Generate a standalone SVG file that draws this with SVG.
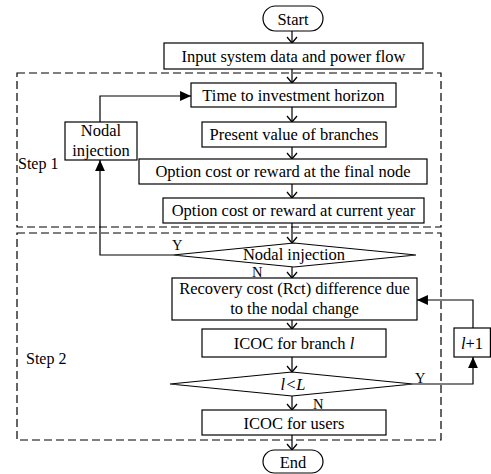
<svg xmlns="http://www.w3.org/2000/svg" width="491" height="474" viewBox="0 0 491 474">
<defs>
<style>
text{font-family:"Liberation Serif","Times New Roman",serif;font-size:16.5px;fill:#000}
.s{font-size:16px}
.y{font-size:14.5px}
.m{text-anchor:middle}
.b{fill:#fff;stroke:#000;stroke-width:1.2}
.d{fill:none;stroke:#000;stroke-width:1.2;stroke-dasharray:8,4}
.c{fill:none;stroke:#000;stroke-width:1.2}
.o{marker-end:url(#open)}
.f{marker-end:url(#fill)}
</style>
<marker id="open" markerUnits="userSpaceOnUse" markerWidth="12" markerHeight="12" viewBox="-7 -6 8 12" refX="0" refY="0" orient="auto">
<path d="M-6,-5 L0,0 L-6,5" fill="none" stroke="#000" stroke-width="1.3"/>
</marker>
<marker id="fill" markerUnits="userSpaceOnUse" markerWidth="12" markerHeight="12" viewBox="-10 -5 11 10" refX="0" refY="0" orient="auto">
<path d="M-10,-4.5 L0,0 L-10,4.5 Z" fill="#000"/>
</marker>
</defs>
<g id="step1-frame"><rect class="d" x="17" y="73" width="424" height="154"/><text class="s" x="18" y="169">Step 1</text></g>
<g id="step2-frame"><rect class="d" x="17" y="233" width="424" height="207"/><text class="s" x="26" y="364">Step 2</text></g>
<g id="connectors">
<path class="c o" d="M292,31 V43"/>
<path class="c o" d="M292,69 V83"/>
<path class="c o" d="M292,107 V122"/>
<path class="c o" d="M292,147 V159"/>
<path class="c o" d="M292,184 V198"/>
<path class="c o" d="M292,223 V243"/>
<path class="c o" d="M292,267 V278"/>
<path class="c o" d="M292,320 V329"/>
<path class="c o" d="M292,357 V372"/>
<path class="c o" d="M292,396 V410"/>
<path class="c o" d="M292,435 V450"/>
<path class="c f" d="M173,255 H100 V160"/>
<path class="c f" d="M100,122 V96 H191"/>
<path class="c f" d="M413,384 H473 V357"/>
<path class="c f" d="M473,328 V300 H417"/>
<text class="y" x="172" y="250">Y</text>
<text class="y" x="252" y="276.5">N</text>
<text class="y" x="415" y="383">Y</text>
<text class="y" x="313" y="408.5">N</text>
</g>
<g id="start"><rect class="b" x="263" y="6" width="60" height="25" rx="12.5"/><text class="m" x="293" y="24.5">Start</text></g>
<g id="input"><rect class="b" x="164" y="43" width="259" height="26"/><text class="m" x="293.5" y="61.5">Input system data and power flow</text></g>
<g id="time"><rect class="b" x="191" y="83" width="205" height="24"/><text class="m" x="293.5" y="100.5">Time to investment horizon</text></g>
<g id="present"><rect class="b" x="202" y="122" width="184" height="25"/><text class="m" x="294" y="140">Present value of branches</text></g>
<g id="nodal-box"><rect class="b" x="65" y="122" width="72" height="38"/><text class="m" x="101" y="136">Nodal</text><text class="m" x="101" y="156">injection</text></g>
<g id="final"><rect class="b" x="139" y="159" width="288" height="25"/><text class="m" x="283" y="177">Option cost or reward at the final node</text></g>
<g id="current"><rect class="b" x="163" y="198" width="261" height="25"/><text class="m" x="293.5" y="216">Option cost or reward at current year</text></g>
<g id="nodal-decision"><polygon class="b" points="173,255 294,243 416,255 294,267"/><text class="m" x="294" y="259.5">Nodal injection</text></g>
<g id="recovery"><rect class="b" x="172" y="278" width="245" height="42"/><text class="m" x="294.5" y="294">Recovery cost (Rct) difference due</text><text class="m" x="294.5" y="314">to the nodal change</text></g>
<g id="icoc-branch"><rect class="b" x="202" y="329" width="184" height="28"/><text class="m" x="294" y="349">ICOC for branch <tspan font-style="italic">l</tspan></text></g>
<g id="l-decision"><polygon class="b" points="170,384 292,372 413,384 292,396"/><text class="m" x="293" y="389.5" font-style="italic">l&lt;L</text></g>
<g id="l-plus"><rect class="b" x="454" y="328" width="36.4" height="29"/><text class="m" x="472" y="349"><tspan font-style="italic">l</tspan>+1</text></g>
<g id="icoc-users"><rect class="b" x="202" y="410" width="184" height="25"/><text class="m" x="294" y="428.5">ICOC for users</text></g>
<g id="end"><rect class="b" x="263" y="450" width="60" height="23" rx="11.5"/><text class="m" x="293" y="467.5">End</text></g>
</svg>
